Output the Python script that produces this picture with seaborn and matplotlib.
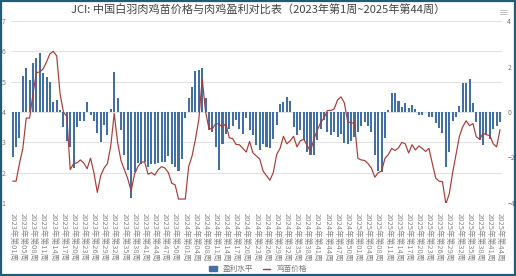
import matplotlib
matplotlib.use("Agg")
import matplotlib.pyplot as plt
import matplotlib.patches as mpatches
import matplotlib.lines as mlines
import seaborn as sns
import pandas as pd

# weeks with data (one holiday week missing each year)
weeks_2023 = [w for w in range(1, 53) if w != 4]
weeks_2024 = [w for w in range(1, 53) if w != 6]
weeks_2025 = [w for w in range(1, 45) if w != 5]

week_labels = (["2023年第%02d周" % w for w in weeks_2023] +
               ["2024年第%02d周" % w for w in weeks_2024] +
               ["2025年第%02d周" % w for w in weeks_2025])

# 盈利水平 (right axis)
profit = [
    -1.97, -1.54, -1.15, 1.57, 1.94, 1.42, 2.14, 2.38, 2.6, 1.7,
    1.55, 1.33, 0.43, 0.53, 0.1, -0.64, -1.26, -1.52, -2.44, -0.64,
    -0.38, -0.38, 0.45, -0.11, -0.38, -0.94, -1.3, -0.57, -1.0, 0.11,
    1.77, 0.6, -0.79, -1.89, -2.55, -3.8, -2.65, -2.25, -2.3, -2.2,
    -2.4, -2.3, -2.27, -2.25, -2.2, -2.2, -1.95, -2.3, -2.4, -2.6,
    -2.05, -0.28, 0.62, 1.1, 1.82, 1.85, 1.93, 0.6, -0.8, -0.9,
    -1.52, -2.53, -1.4, -0.96, -0.73, -0.62, -0.35, -0.75, -0.97, -0.25,
    -0.78, -1.0, -1.45, -1.67, -1.41, -1.53, -1.6, -1.17, -0.56, 0.34,
    0.43, 0.68, 0.5, -0.66, -1.0, -0.81, -1.25, -1.76, -1.9, -1.9,
    -1.25, -0.73, -0.37, -0.88, -1.03, -0.88, -1.1, -0.95, -1.38, -1.42,
    -1.28, -1.1, -0.9, -0.6, -0.42, -0.62, -0.9, -1.9, -2.58, -2.65,
    -1.16, 0.09, 0.85, 0.82, 0.48, 0.2, 0.41, 0.16, 0.31, 0.12,
    -0.13, -0.13, -0.02, -0.22, -0.2, -0.5, -0.72, -0.94, -2.41, -1.75,
    -0.4, -0.2, 0.26, 1.29, 1.29, 1.44, 0.38, -0.45, -1.25, -1.45,
    -1.0, -1.2, -0.75, -0.62, -0.42,
]

# 鸡苗价格 (left axis)
chick_price = [
    1.72, 1.72, 2.3, 2.8, 3.8, 3.8, 4.6, 5.3, 5.32, 5.42,
    5.65, 5.92, 6.0, 5.85, 4.6, 4.0, 3.85, 2.1, 2.3, 2.32,
    2.42, 2.32, 2.13, 2.48, 2.0, 1.35, 1.9, 2.15, 2.3, 2.9,
    3.95, 3.0, 2.4, 2.1, 1.8, 1.4, 1.95, 2.2, 2.35, 2.35,
    1.95, 2.0, 1.92, 2.1, 2.2, 2.15, 2.0, 1.65, 1.6, 1.13,
    1.13, 1.13, 2.2, 2.55, 3.1, 3.75, 5.1, 4.0, 3.45, 3.45,
    3.62, 3.6, 3.5, 3.62, 3.15, 3.12, 2.93, 2.92, 2.8, 2.68,
    3.03, 2.65, 2.55, 2.45, 2.05, 1.9, 1.75, 2.0, 2.6, 2.8,
    3.2, 2.95, 3.05, 3.2, 2.85, 3.05, 3.1, 2.9, 2.7, 3.1,
    3.4, 3.65, 3.8, 4.05, 4.05, 4.1, 4.4, 4.5, 4.3, 3.68,
    3.64, 3.64, 2.47, 2.42, 2.4, 2.3, 2.15, 1.85, 2.0, 2.05,
    2.47, 2.6, 2.8, 2.73, 2.82, 3.0, 2.95, 2.65, 2.92, 2.75,
    2.88, 2.8, 2.7, 2.8, 2.3, 1.82, 1.72, 1.7, 0.97, 1.3,
    2.0, 2.6, 3.2, 3.52, 3.71, 3.55, 3.62, 3.18, 3.1, 3.3,
    3.25, 3.22, 2.95, 2.85, 3.42,
]

price_ticks = [1, 2, 3, 4, 5, 6, 7]
profit_ticks = [-4, -2, 0, 2, 4]

df = pd.DataFrame({"week": week_labels, "profit": profit, "price": chick_price})
df["idx"] = range(len(df))

bar_color = "#4170a8"
line_color = "#ad3a36"
grey = "#777777"

sns.set_style("white")
plt.rcParams["font.family"] = ["Noto Sans CJK SC", "DejaVu Sans"]

fig = plt.figure(figsize=(5.16, 2.76), dpi=100)
ax = fig.add_axes([0.0213, 0.2645, 0.951, 0.6594])
ax2 = ax.twinx()

# grid lines sit under the bars, at the price ticks
for v in price_ticks:
    ax.axhline((v - 4) * 4 / 3, color="#e2e2e2", linewidth=0.8, zorder=0)

# bars on the right-hand axis
sns.barplot(data=df, x="week", y="profit", color=bar_color, width=0.6,
            saturation=1, linewidth=0, ax=ax)
ax.set_ylim(-4, 4)
ax.set_yticks(profit_ticks)
ax.yaxis.tick_right()
ax.tick_params(axis="y", labelsize=5, colors=grey, length=0, pad=4)

# line on the left-hand axis
sns.lineplot(data=df, x="idx", y="price", color=line_color, linewidth=0.85, ax=ax2)
ax2.set_ylim(1, 7)
ax2.set_yticks(price_ticks)
ax2.yaxis.tick_left()
ax2.tick_params(axis="y", labelsize=5, colors=grey, length=0, pad=4)
ax2.set_xlim(-0.5, len(df) - 0.5)

for a in (ax, ax2):
    a.set_xlabel("")
    a.set_ylabel("")
    for s in a.spines.values():
        s.set_visible(False)

# x labels every 3rd week
tick_pos = list(range(0, len(df), 3))
ax.set_xticks(tick_pos)
ax.set_xticklabels([week_labels[i] for i in tick_pos], rotation=-90,
                   fontsize=5.5, color="#8a8a8a", va="top", ha="center")
ax.tick_params(axis="x", length=0, pad=7)
ax.set_xlim(-0.5, len(df) - 0.5)

fig.suptitle("JCI: 中国白羽肉鸡苗价格与肉鸡盈利对比表（2023年第1周~2025年第44周）",
             x=0.5, y=0.985, fontsize=8, color="#444444")
fig.text(0.985, 0.955, "≡", fontsize=7, color="#aaaaaa", ha="right", va="center")

bar_handle = mpatches.Patch(color=bar_color)
line_handle = mlines.Line2D([], [], color=line_color, linewidth=1)
fig.legend([bar_handle, line_handle], ["盈利水平", "鸡苗价格"], loc="lower center",
           bbox_to_anchor=(0.5, -0.015), ncol=2, frameon=False, fontsize=5.5,
           handlelength=1.0, handleheight=0.6, columnspacing=1.2,
           labelcolor="#777777")

# dark frame round the picture
frame = mpatches.Rectangle((0.002, 0.003), 0.996, 0.994, transform=fig.transFigure,
                           fill=False, edgecolor="#1f5c78", linewidth=1.6)
fig.patches.append(frame)

fig.savefig("out.png", dpi=100)
